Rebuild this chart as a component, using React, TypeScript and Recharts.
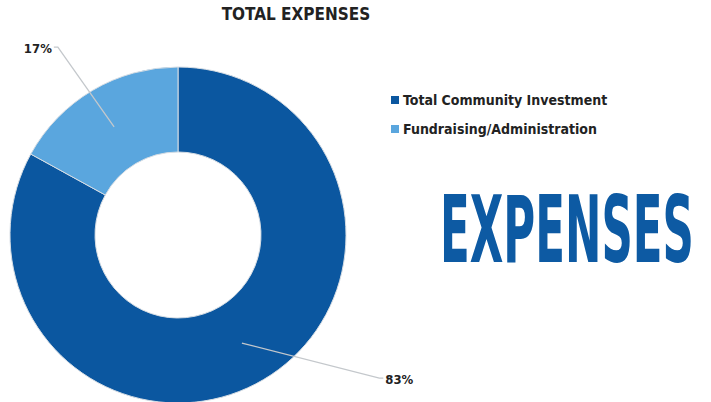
import React, { useLayoutEffect, useRef, useState } from 'react';
import { PieChart, Pie, Cell, Legend } from 'recharts';

const categories = ['Total Community Investment', 'Fundraising/Administration'];
const shares = [83, 17];
const colors = ['#0b57a0', '#5aa6de'];

const data = categories.map((name, i) => ({ name, value: shares[i] }));

const RAD = Math.PI / 180;
const FONT = "'Liberation Sans Narrow', 'DejaVu Sans Condensed', 'Roboto', sans-serif";

// leader line: start in the middle of the ring, end near the label
const renderLabel = (props: any) => {
  const { cx, cy, midAngle, innerRadius, outerRadius, index, value } = props;
  const rMid = (innerRadius + outerRadius) / 2;
  const sx = cx + rMid * Math.cos(-midAngle * RAD);
  const sy = cy + rMid * Math.sin(-midAngle * RAD);
  // pull the label angle a bit, out past the ring
  const a = index === 0 ? midAngle + 24 : midAngle + 2;
  const rEnd = index === 0 ? 247 : 223;
  const ex = cx + rEnd * Math.cos(-a * RAD);
  const ey = cy + rEnd * Math.sin(-a * RAD);
  const right = ex > cx;
  return (
    <g>
      <polyline
        points={`${sx},${sy} ${ex},${ey} ${ex + (right ? 4 : -4)},${ey}`}
        fill="none"
        stroke="#c4c8cc"
        strokeWidth={1.3}
      />
      <text
        x={ex + (right ? 6 : -6)}
        y={ey + 1}
        textAnchor={right ? 'start' : 'end'}
        dominantBaseline="central"
        fontFamily={FONT}
        fontWeight="bold"
        fontSize={13}
        fill="#222"
      >
        {value}%
      </text>
    </g>
  );
};

const renderLegend = () => (
  <div style={{ fontFamily: FONT, fontWeight: 'bold', fontSize: 14, color: '#222' }}>
    {categories.map((c, i) => (
      <div key={c} style={{ display: 'flex', alignItems: 'center', height: 29 }}>
        <span
          style={{ width: 8, height: 8, background: colors[i], marginRight: 4, display: 'inline-block' }}
        />
        {c}
      </div>
    ))}
  </div>
);

// big condensed word, squeezed to the reference width
const BigWord = () => {
  const ref = useRef<SVGTextElement>(null);
  const [sx, setSx] = useState(0.55);
  useLayoutEffect(() => {
    if (ref.current) {
      const len = ref.current.getComputedTextLength();
      if (len > 0) setSx(254 / len);
    }
  }, []);
  return (
    <svg style={{ position: 'absolute', left: 0, top: 0 }} width={711} height={402}>
      <text
        ref={ref}
        transform={`translate(440,262) scale(${sx},1)`}
        fontFamily="'DejaVu Sans Condensed', 'Liberation Sans Narrow', sans-serif"
        fontWeight="bold"
        fontSize={92}
        fill="#0d5aa3"
      >
        EXPENSES
      </text>
    </svg>
  );
};

export default function App() {
  return (
    <div style={{ position: 'fixed', left: 0, top: 0, width: 711, height: 402, background: '#fff' }}>
      <div
        style={{
          position: 'absolute',
          left: 0,
          width: 592,
          top: 4,
          textAlign: 'center',
          fontFamily: FONT,
          fontWeight: 'bold',
          fontSize: 17,
          color: '#222',
        }}
      >
        TOTAL EXPENSES
      </div>
      <PieChart width={711} height={402} margin={{ top: 0, right: 0, bottom: 0, left: 0 }}>
        <Pie
          data={data}
          dataKey="value"
          nameKey="name"
          cx={178}
          cy={235}
          innerRadius={83}
          outerRadius={168}
          startAngle={90}
          endAngle={-270}
          stroke="#d6dde4"
          strokeWidth={1}
          label={renderLabel}
          labelLine={false}
          isAnimationActive={false}
        >
          {data.map((d, i) => (
            <Cell key={d.name} fill={colors[i]} />
          ))}
        </Pie>
        <Legend
          content={renderLegend}
          layout="vertical"
          wrapperStyle={{ position: 'absolute', left: 391, top: 85, width: 260 }}
        />
      </PieChart>
      <BigWord />
    </div>
  );
}
